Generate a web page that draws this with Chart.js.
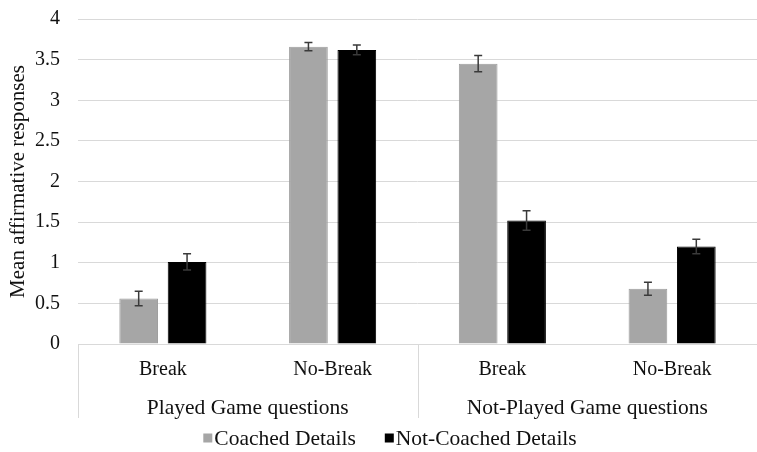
<!DOCTYPE html>
<html>
<head>
<meta charset="utf-8">
<script src="https://cdn.jsdelivr.net/npm/chart.js@4/dist/chart.umd.min.js"></script>
<style>
  html, body { margin: 0; padding: 0; background: #fff; }
  #wrap { width: 757px; height: 452px; }
</style>
</head>
<body>
<div id="wrap"><canvas id="chart" width="757" height="452"></canvas></div>
<script>
// Condition labels (inner axis) and question groups (outer axis)
const conditions = ['Break', 'No-Break', 'Break', 'No-Break'];
const questionGroups = ['Played Game questions', 'Not-Played Game questions'];

// Mean affirmative responses per condition
const coachedMeans = [0.56, 3.66, 3.45, 0.68];
const notCoachedMeans = [1.01, 3.62, 1.52, 1.20];

// Standard errors
const coachedErrors = [0.09, 0.05, 0.10, 0.08];
const notCoachedErrors = [0.10, 0.06, 0.12, 0.09];

const seriesNames = ['Coached Details', 'Not-Coached Details'];
const yTicks = [0, 0.5, 1, 1.5, 2, 2.5, 3, 3.5, 4];

const FONT = '"Liberation Serif", "Times New Roman", serif';
const GRID = '#d9d9d9';

// Error bars drawn at each bar's centre from the dataset's errors
const errorBars = {
  id: 'errorBars',
  afterDatasetsDraw(chart) {
    const ctx = chart.ctx;
    const y = chart.scales.y;
    ctx.save();
    ctx.strokeStyle = '#3a3a3a';
    ctx.lineWidth = 1.5;
    chart.data.datasets.forEach((ds, di) => {
      const meta = chart.getDatasetMeta(di);
      meta.data.forEach((bar, i) => {
        const v = ds.data[i], e = ds.errors[i];
        const top = y.getPixelForValue(v + e);
        const bot = y.getPixelForValue(v - e);
        const x = bar.x, cap = 4;
        ctx.beginPath();
        ctx.moveTo(x, top); ctx.lineTo(x, bot);
        ctx.moveTo(x - cap, top); ctx.lineTo(x + cap, top);
        ctx.moveTo(x - cap, bot); ctx.lineTo(x + cap, bot);
        ctx.stroke();
      });
    });
    ctx.restore();
  }
};

// Vertical dividers between the question groups below the axis
const groupDividers = {
  id: 'groupDividers',
  afterDraw(chart) {
    const ctx = chart.ctx;
    const x = chart.scales.x;
    const area = chart.chartArea;
    const bottom = chart.scales.x2.bottom - 7;
    const mid = (x.getPixelForValue(1) + x.getPixelForValue(2)) / 2;
    ctx.save();
    ctx.strokeStyle = GRID;
    ctx.lineWidth = 1;
    [area.left + 0.5, Math.round(mid) + 0.5].forEach(px => {
      ctx.beginPath();
      ctx.moveTo(px, area.bottom);
      ctx.lineTo(px, bottom);
      ctx.stroke();
    });
    ctx.restore();
  }
};

// Compact legend: small square directly followed by its label
const compactLegend = {
  id: 'compactLegend',
  afterDraw(chart) {
    const ctx = chart.ctx;
    ctx.save();
    ctx.font = '21.5px ' + FONT;
    ctx.textBaseline = 'middle';
    const box = 9, gap = 2, itemGap = 29;
    const items = chart.data.datasets.map(ds => ({
      label: ds.label, color: ds.backgroundColor,
      w: box + gap + ctx.measureText(ds.label).width
    }));
    const total = items.reduce((s, it) => s + it.w, 0) + itemGap * (items.length - 1);
    let x = 390 - total / 2;
    const cy = 438;
    items.forEach(it => {
      ctx.fillStyle = it.color;
      ctx.fillRect(x, cy - box / 2, box, box);
      ctx.fillStyle = '#111';
      ctx.fillText(it.label, x + box + gap, cy + 1);
      x += it.w + itemGap;
    });
    ctx.restore();
  }
};

new Chart(document.getElementById('chart'), {
  type: 'bar',
  data: {
    labels: conditions,
    datasets: [
      {
        label: seriesNames[0],
        data: coachedMeans,
        errors: coachedErrors,
        backgroundColor: '#a6a6a6',
        borderColor: '#9c9c9c',
        borderWidth: 1
      },
      {
        label: seriesNames[1],
        data: notCoachedMeans,
        errors: notCoachedErrors,
        backgroundColor: '#000000',
        borderColor: '#000000',
        borderWidth: 1
      }
    ]
  },
  options: {
    responsive: false,
    animation: false,
    events: [],
    categoryPercentage: 0.57,
    barPercentage: 0.8,
    layout: { padding: { top: 19, right: 0, bottom: 27, left: 0 } },
    plugins: {
      legend: { display: false },
      tooltip: { enabled: false }
    },
    scales: {
      x: {
        position: 'bottom',
        grid: { display: false },
        border: { display: true, color: GRID },
        ticks: {
          color: '#111',
          font: { family: FONT, size: 20 },
          padding: 6,
          maxRotation: 0,
          autoSkip: false
        },
        afterFit(scale) { scale.height = 40; }
      },
      x2: {
        type: 'category',
        position: 'bottom',
        labels: questionGroups,
        grid: { display: false },
        border: { display: false },
        ticks: {
          color: '#111',
          font: { family: FONT, size: 21.5 },
          padding: 3,
          maxRotation: 0,
          autoSkip: false
        },
        afterFit(scale) { scale.height = 41; }
      },
      y: {
        min: 0,
        max: 4,
        afterBuildTicks(scale) { scale.ticks = yTicks.map(v => ({ value: v })); },
        grid: { color: GRID, lineWidth: 1, drawTicks: false },
        border: { display: false },
        ticks: {
          color: '#111',
          font: { family: FONT, size: 20 },
          padding: 18,
          callback: v => String(v)
        },
        title: {
          display: true,
          text: 'Mean affirmative responses',
          color: '#111',
          font: { family: FONT, size: 21 },
          padding: { top: 6, bottom: 0 }
        },
        afterFit(scale) {
          scale.width = 78;
          scale.paddingTop = 0;
          scale.paddingBottom = 0;
        }
      }
    }
  },
  plugins: [errorBars, groupDividers, compactLegend]
});
</script>
</body>
</html>
